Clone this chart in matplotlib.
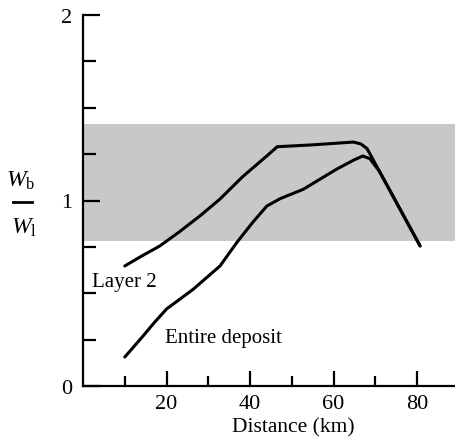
import matplotlib
matplotlib.use("Agg")
import matplotlib.pyplot as plt
from matplotlib.lines import Line2D

plt.rcParams['font.family'] = ['Liberation Serif', 'DejaVu Serif']
plt.rcParams['mathtext.fontset'] = 'custom'
plt.rcParams['mathtext.rm'] = 'Liberation Serif'
plt.rcParams['mathtext.it'] = 'Liberation Serif:italic'

# Data
layer2_x = [10, 14, 18.4, 23, 28, 32.8, 38.3, 44, 46.5, 55, 64.7, 66.5, 68, 80.7]
layer2_y = [0.647, 0.70, 0.755, 0.83, 0.917, 1.008, 1.13, 1.24, 1.29, 1.30, 1.315, 1.305, 1.28, 0.755]

entire_x = [10, 14.4, 17, 20, 26.3, 32.8, 36.9, 40.7, 44, 47.2, 52.7, 60.8, 65, 67, 68.7, 71, 80.7]
entire_y = [0.156, 0.27, 0.34, 0.415, 0.52, 0.647, 0.776, 0.884, 0.97, 1.01, 1.06, 1.17, 1.22, 1.24, 1.225, 1.156, 0.755]

band_low, band_high = 0.78, 1.415
x_major = [20, 40, 60, 80]
x_minor = [10, 30, 50, 70]
y_major = [0, 1, 2]
y_minor = [0.25, 0.5, 0.75, 1.25, 1.5, 1.75]

W, H = 456, 439
fig = plt.figure(figsize=(W / 100, H / 100), dpi=100)
x0, x1 = 83, 456
y0, y1 = 387, 16
ax = fig.add_axes([x0 / W, (H - y0) / H, (x1 - x0) / W, (y0 - y1) / H])
ax.set_xlim(0, 89.3)
ax.set_ylim(0, 2)

ax.axhspan(band_low, band_high, color='#c8c8c8', lw=0, zorder=0)

ax.plot(layer2_x, layer2_y, color='black', lw=2.2, solid_joinstyle='round', solid_capstyle='round')
ax.plot(entire_x, entire_y, color='black', lw=2.2, solid_joinstyle='round', solid_capstyle='round')

for s in ['top', 'right']:
    ax.spines[s].set_visible(False)
for s in ['left', 'bottom']:
    ax.spines[s].set_linewidth(1.6)

ax.set_xticks(x_major)
ax.set_xticks(x_minor, minor=True)
ax.set_yticks(y_major)
ax.set_yticks(y_minor, minor=True)
ax.tick_params(axis='both', which='both', direction='in', width=1.6, labelsize=16)
ax.tick_params(axis='x', which='major', length=11, pad=6)
ax.tick_params(axis='x', which='minor', length=7)
ax.tick_params(axis='y', which='major', length=12, pad=8)
ax.tick_params(axis='y', which='minor', length=9)

ax.set_xlabel('Distance (km)', fontsize=15.5)
ax.xaxis.set_label_coords((293 - x0) / (x1 - x0), -(428 - y0) / (y0 - y1))
ax.xaxis.label.set_verticalalignment('center')

ax.text(2.2, 0.566, 'Layer 2', fontsize=15, va='center', ha='left')
ax.text(19.6, 0.264, 'Entire deposit', fontsize=15, va='center', ha='left')

# y label as fraction
fig.text(21 / W, 1 - 181 / H, r'$W_{\mathrm{b}}$', fontsize=17, ha='center', va='center')
fig.add_artist(Line2D([13 / W, 32 / W], [1 - 203 / H, 1 - 203 / H], color='black', lw=2, transform=fig.transFigure))
fig.text(24 / W, 1 - 228 / H, r'$W_{\mathrm{l}}$', fontsize=17, ha='center', va='center')

fig.savefig('out.png', dpi=100)
